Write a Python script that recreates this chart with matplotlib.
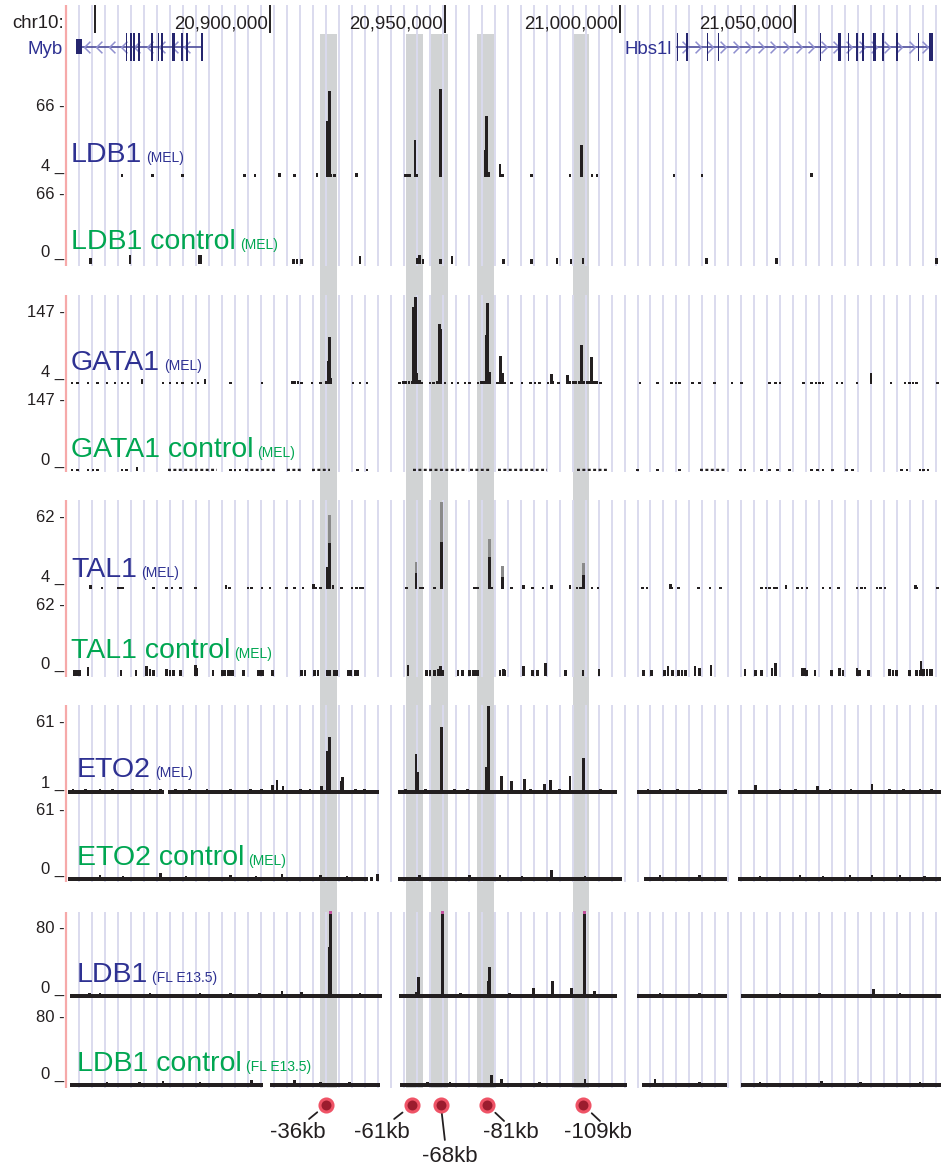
import numpy as np
import matplotlib
matplotlib.use('Agg')
import matplotlib.pyplot as plt
from matplotlib.path import Path

plt.rcParams['font.family'] = ['Liberation Sans', 'DejaVu Sans']

# chr10 window shown by the browser, in kb
view_kb = (20841.7, 21091.7)

ruler_ticks = [20850, 20900, 20950, 21000, 21050]
ruler_labels = ['', '20,900,000', '20,950,000', '21,000,000', '21,050,000']

# grey highlighted enhancers and their names
enhancer_bands = [(20914.3, 20919.1), (20938.9, 20943.7), (20946.0, 20950.9),
                  (20959.1, 20964.0), (20986.6, 20991.1)]
enhancer_pos = [20916.0, 20940.6, 20948.8, 20962.0, 20989.4]
enhancer_names = ['-36kb', '-61kb', '-68kb', '-81kb', '-109kb']

# genes: intron span and exons as (centre, width)
myb_span = (20845.4, 20880.5)
myb_utr = (20844.6, 20846.2)
myb_exons = [(20859.0, 0.5), (20860.3, 0.5), (20861.2, 0.5), (20862.6, 0.5),
             (20866.2, 0.5), (20868.1, 0.5), (20869.2, 0.5), (20872.4, 1.1),
             (20874.8, 0.5), (20876.2, 0.5), (20880.5, 0.5)]
hbs1l_span = (21016.4, 21088.8)
hbs1l_exons = [(21016.4, 0.5), (21019.2, 0.5), (21025.0, 0.5), (21028.1, 0.5),
               (21057.3, 0.5), (21062.7, 0.8), (21065.3, 0.5), (21067.8, 0.5),
               (21069.5, 0.5), (21072.8, 0.9), (21075.2, 0.5), (21079.2, 0.5),
               (21085.3, 0.5), (21088.9, 1.2)]

# signal tracks: (position kb, value)
ldb1_mel = [(20857.7, 6.5), (20866.3, 6.5), (20875.1, 6.5), (20892.8, 6.5), (20895.7, 6.5),
            (20902.8, 7.5), (20907.1, 6.5), (20913.4, 7.5), (20916.5, 52), (20916.9, 78),
            (20917.4, 7), (20918.3, 6.5), (20924.6, 7.5), (20938.6, 6.5), (20939.2, 6.5),
            (20939.8, 6.5), (20941.4, 36), (20941.9, 6.5), (20948.8, 80), (20961.5, 27),
            (20961.9, 56.5), (20962.3, 8), (20965.7, 15), (20966.3, 6.5), (20974.8, 6.5),
            (20985.7, 6.5), (20989.0, 31.5), (20992.0, 6.5), (20993.4, 6.5), (21015.4, 6.5),
            (21023.4, 6.5), (21054.8, 7.5)]
ldb1_mel_ctrl = [(20848.6, 5.6), (20860.0, 8.4), (20879.7, 8.4), (20880.2, 8.4), (20906.6, 4.6),
                 (20907.7, 4.6), (20909.1, 4.6), (20925.7, 7.4), (20942.0, 6.0), (20942.8, 8.4),
                 (20943.7, 5.0), (20948.8, 4.6), (20952.0, 7.4), (20966.6, 4.6), (20974.8, 4.6),
                 (20982.0, 5.6), (20986.0, 4.6), (20989.4, 5.6), (21024.6, 5.6), (21044.8, 5.6),
                 (21090.3, 5.6)]

gata1 = [(20916.6, 50), (20917.0, 97), (20917.4, 16), (20941.1, 157), (20941.6, 177),
         (20942.0, 26), (20942.6, 12), (20948.4, 123), (20948.8, 113), (20961.7, 101),
         (20962.1, 165), (20962.6, 28), (20965.9, 60), (20966.3, 26), (20980.3, 24),
         (20985.1, 22), (20989.0, 81), (20991.9, 58), (21071.7, 26),
         (20843.4, 8), (20845.1, 8), (20848.0, 8), (20850.8, 8), (20853.4, 8), (20855.7, 8),
         (20857.7, 8), (20859.4, 8), (20863.4, 14), (20869.4, 8), (20871.4, 8), (20873.4, 8),
         (20875.1, 8), (20877.7, 8), (20879.4, 8), (20881.4, 14), (20888.6, 8), (20897.7, 8),
         (20906.3, 9), (20907.1, 9), (20908.0, 9), (20909.1, 8), (20912.0, 8), (20914.3, 8),
         (20916.0, 9), (20923.7, 8), (20925.7, 8), (20927.7, 8), (20937.1, 8), (20938.0, 9),
         (20938.8, 9), (20939.7, 9), (20940.6, 9), (20942.8, 8), (20943.4, 8), (20945.7, 8),
         (20946.8, 8), (20947.7, 9), (20950.0, 8), (20952.0, 8), (20953.7, 8), (20955.7, 8),
         (20957.1, 8), (20959.4, 8), (20960.3, 9), (20961.1, 9), (20962.8, 8), (20965.1, 8),
         (20967.1, 8), (20969.1, 8), (20972.0, 8), (20974.3, 8), (20975.7, 8), (20977.1, 8),
         (20979.4, 8), (20980.8, 9), (20982.3, 8), (20985.7, 9), (20986.6, 9), (20987.4, 9),
         (20988.3, 9), (20989.7, 9), (20990.6, 9), (20991.4, 9), (20992.6, 9), (20993.4, 9),
         (20994.3, 8), (21005.7, 8), (21010.8, 8), (21014.8, 8), (21016.0, 8), (21017.1, 8),
         (21020.6, 8), (21022.8, 8), (21027.1, 8), (21032.0, 8), (21034.8, 8), (21042.8, 8),
         (21044.3, 8), (21045.7, 8), (21052.3, 8), (21054.8, 8), (21056.0, 8), (21057.1, 8),
         (21058.0, 8), (21062.0, 8), (21063.4, 8), (21067.7, 8), (21077.4, 8), (21081.4, 8),
         (21082.6, 8), (21083.7, 8), (21084.8, 8), (21090.8, 8)]
gata1_ctrl = [(20843.4, 5), (20845.1, 5), (20848.0, 5), (20849.4, 5), (20850.8, 5), (20857.7, 5),
              (20859.1, 5), (20862.0, 8), (20888.6, 5), (20890.0, 5), (20891.4, 5), (20925.1, 5),
              (20927.7, 5), (21005.1, 5), (21010.8, 5), (21017.1, 5), (21034.3, 5), (21035.7, 5),
              (21040.5, 5), (21042.8, 5), (21045.1, 5), (21048.5, 5), (21054.8, 5), (21056.5, 5),
              (21058.0, 5), (21060.8, 5), (21064.8, 5), (21066.5, 5), (21080.5, 5), (21082.0, 5),
              (21085.7, 5), (21086.8, 5), (21088.0, 5)]
gata1_ctrl_runs = [(20870.8, 20884.8, 5), (20892.8, 20901.4, 5), (20904.8, 20909.1, 5),
                   (20912.0, 20917.1, 5), (20940.8, 20956.3, 5), (20957.1, 20962.8, 5),
                   (20965.1, 20979.1, 5), (20987.7, 20996.3, 5), (21022.8, 21030.0, 5)]

tal1 = [(20916.5, 22), (20916.9, 41), (20941.7, 17), (20949.0, 42), (20962.6, 30),
        (20966.3, 14), (20989.5, 15),
        (20848.6, 7.2), (20852.0, 5.6), (20856.6, 5.6), (20857.4, 5.6), (20858.0, 5.6),
        (20866.6, 5.6), (20870.5, 5.6), (20872.0, 5.6), (20874.3, 5.6), (20878.8, 5.6),
        (20887.4, 7.2), (20888.3, 5.6), (20893.7, 5.6), (20894.8, 5.6), (20897.7, 5.6),
        (20900.0, 5.6), (20904.8, 5.6), (20907.1, 5.6), (20909.4, 5.6), (20912.3, 8),
        (20913.1, 5.6), (20914.3, 5.6), (20917.1, 5.6), (20918.0, 7.2), (20920.5, 5.6),
        (20923.4, 5.6), (20924.8, 5.6), (20925.7, 5.6), (20926.3, 5.6), (20939.1, 5.6),
        (20943.1, 5.6), (20943.7, 5.6), (20947.1, 5.6), (20958.3, 5.6), (20958.8, 5.6),
        (20959.4, 5.6), (20963.4, 5.6), (20969.1, 5.6), (20972.3, 7.2), (20975.1, 5.6),
        (20978.0, 5.6), (20980.5, 7.2), (20985.7, 7.2), (20987.7, 5.6), (20988.6, 5.6),
        (20992.0, 5.6), (20993.7, 5.6), (21006.3, 5.6), (21007.7, 5.6), (21014.3, 8),
        (21014.8, 5.6), (21016.6, 5.6), (21022.3, 5.6), (21025.7, 5.6), (21028.6, 5.6),
        (21040.5, 5.6), (21041.7, 5.6), (21042.8, 5.6), (21044.0, 5.6), (21044.8, 5.6),
        (21047.4, 7.2), (21050.8, 5.6), (21052.0, 5.6), (21053.4, 5.6), (21058.0, 5.6),
        (21060.0, 5.6), (21062.3, 5.6), (21067.7, 5.6), (21069.1, 5.6), (21070.0, 5.6),
        (21073.4, 5.6), (21074.5, 5.6), (21075.7, 5.6), (21084.3, 7.2), (21084.8, 5.6),
        (21090.8, 5.6)]
# TAL1 peaks are drawn two-tone: the grey upper part reaches these values
tal1_upper = [(20916.9, 63.6), (20941.7, 26), (20949.0, 74), (20962.6, 44),
              (20966.3, 22.5), (20989.5, 25)]
tal1_ctrl = [(20844.0, 5.2), (20844.6, 5.2), (20845.1, 5.2), (20845.7, 5.2), (20848.0, 7.9),
             (20857.4, 5.2), (20861.7, 5.2), (20864.8, 8.7), (20865.7, 6.1), (20866.6, 5.2),
             (20870.5, 6.1), (20871.4, 5.2), (20872.3, 5.2), (20874.3, 5.2), (20878.6, 9.6),
             (20879.1, 7.0), (20883.7, 5.2), (20886.3, 5.2), (20887.1, 5.2), (20888.0, 5.2),
             (20888.8, 5.2), (20889.4, 5.2), (20892.3, 5.2), (20896.8, 5.2), (20897.4, 5.2),
             (20898.0, 5.2), (20900.8, 5.2), (20909.1, 5.2), (20910.0, 5.2), (20912.6, 5.2),
             (20913.7, 5.2), (20916.3, 5.2), (20917.1, 5.2), (20918.3, 5.2), (20919.1, 5.2),
             (20922.3, 5.2), (20923.1, 5.2), (20924.3, 5.2), (20925.1, 5.2), (20939.4, 9.6),
             (20944.8, 5.2), (20945.7, 5.2), (20947.1, 5.2), (20948.0, 6.1), (20948.8, 8.7),
             (20949.4, 5.2), (20953.7, 5.2), (20955.1, 5.2), (20957.1, 5.2), (20958.0, 5.2),
             (20958.8, 5.2), (20959.4, 5.2), (20965.7, 5.2), (20966.6, 6.1), (20967.1, 5.2),
             (20972.3, 8.7), (20975.1, 5.2), (20976.3, 5.2), (20978.8, 11.3), (20984.3, 5.2),
             (20989.4, 5.2), (20994.0, 6.1), (21006.6, 5.2), (21009.1, 5.2), (21012.8, 5.2),
             (21013.7, 8.7), (21015.1, 5.2), (21016.8, 5.2), (21017.7, 5.2), (21018.6, 5.2),
             (21021.4, 8.7), (21022.6, 7.0), (21026.0, 9.6), (21035.7, 6.1), (21038.8, 5.2),
             (21040.5, 5.2), (21043.4, 7.0), (21044.3, 11.3), (21052.0, 7.0), (21052.8, 7.0),
             (21053.4, 5.2), (21055.7, 5.2), (21060.3, 5.2), (21062.8, 7.0), (21063.7, 5.2),
             (21067.7, 7.0), (21068.3, 5.2), (21071.1, 5.2), (21077.1, 6.1), (21078.0, 5.2),
             (21079.1, 5.2), (21082.8, 5.2), (21084.8, 5.2), (21085.7, 5.2), (21086.0, 13.1),
             (21086.8, 6.1), (21087.7, 6.1), (21088.6, 6.1), (21089.1, 6.1)]

eto2 = [(20843.7, 5), (20847.2, 5.5), (20851.4, 5.5), (20855.0, 5), (20860.8, 5), (20865.7, 5.5),
        (20868.6, 5), (20873.1, 5.5), (20877.1, 5.5), (20882.0, 5), (20888.6, 5), (20894.3, 5.5),
        (20897.5, 5), (20900.8, 8.5), (20902.0, 12.8), (20903.7, 7.7), (20908.6, 5),
        (20911.4, 5.5), (20914.8, 7.7), (20916.5, 37), (20916.9, 48.7), (20920.3, 12),
        (20920.8, 15), (20924.3, 5.5), (20927.1, 5), (20938.8, 5.5), (20941.7, 34.5),
        (20942.1, 19.5), (20944.3, 5.5), (20949.0, 57), (20952.8, 5), (20956.5, 5.5),
        (20961.9, 23.7), (20962.3, 74.5), (20966.2, 16), (20969.0, 12), (20972.6, 13.7),
        (20974.3, 5.5), (20978.3, 9.5), (20980.2, 12.8), (20982.8, 5.5), (20985.7, 16),
        (20989.5, 31), (20994.3, 5), (21008.0, 5), (21011.4, 5.5), (21016.3, 5), (21022.8, 5),
        (21038.6, 8.7), (21045.7, 5.5), (21050.2, 5), (21056.3, 8), (21060.0, 5),
        (21066.0, 5.5), (21072.0, 9), (21077.1, 5.5), (21081.0, 5), (21085.7, 5), (21089.0, 5.5)]
eto2_runs = [(20842.3, 20869.7, 4.2), (20870.8, 20931.1, 4.2), (20936.6, 20999.1, 4.2),
             (21004.8, 21030.6, 4.2), (21033.7, 21091.7, 4.2)]
eto2_ctrl = [(20851.4, 4.8), (20858.0, 4.6), (20868.6, 6.8), (20876.0, 4.6), (20888.6, 4.8),
             (20896.0, 4.6), (20903.4, 6), (20914.3, 5), (20922.0, 4.6), (20929.1, 3.5),
             (20930.8, 6), (20942.8, 4.8), (20957.1, 4.8), (20965.7, 5), (20972.0, 4.6),
             (20980.3, 9.3), (20990.0, 4.6), (21011.4, 4.8), (21022.8, 5), (21040.0, 4.6),
             (21051.4, 4.8), (21058.0, 4.6), (21065.7, 5), (21072.0, 5.5), (21080.0, 4.8),
             (21087.0, 4.6)]
eto2_ctrl_runs = [(20842.3, 20928.0, 3.3), (20936.6, 21000.6, 3.3), (21006.8, 21030.6, 3.3),
                  (21033.7, 21091.7, 3.3)]

ldb1_fl = [(20848.3, 5.7), (20851.4, 5.2), (20858.0, 5), (20865.7, 5.2), (20872.0, 5),
           (20880.0, 5.2), (20888.6, 5.2), (20897.1, 5.2), (20903.4, 8), (20909.1, 6.9),
           (20916.9, 58), (20917.3, 120), (20925.7, 5.2), (20941.9, 7), (20942.4, 24),
           (20949.2, 120), (20954.3, 5.2), (20962.3, 19.5), (20962.6, 35.5), (20968.5, 5.2),
           (20975.2, 11.4), (20980.8, 19.5), (20986.2, 11.4), (20989.8, 120), (20992.8, 8),
           (21011.4, 5.2), (21022.8, 5.2), (21040.0, 5), (21045.7, 5.2), (21057.1, 5.2),
           (21064.0, 5), (21072.4, 10), (21080.0, 5.2), (21087.0, 5)]
ldb1_fl_runs = [(20842.8, 20932.0, 4.2), (20936.8, 20999.1, 4.2), (21004.8, 21030.6, 4.2),
                (21034.6, 21091.7, 4.2)]
ldb1_fl_ctrl = [(20853.4, 5.7), (20862.8, 5.2), (20869.4, 6.9), (20880.0, 5.2), (20894.8, 8),
                (20907.1, 8), (20914.3, 5.2), (20922.8, 5.2), (20945.0, 5.2), (20951.4, 5.2),
                (20963.3, 13.7), (20966.2, 9), (20977.1, 5.2), (20990.0, 9), (21010.0, 9),
                (21022.8, 5.2), (21040.0, 5.2), (21050.0, 5), (21057.6, 6.9), (21068.6, 5.2),
                (21077.0, 5), (21085.7, 5.2)]
ldb1_fl_ctrl_runs = [(20842.8, 20898.0, 4.2), (20900.0, 20931.4, 4.2), (20937.1, 21002.0, 4.2),
                     (21006.3, 21030.6, 4.2), (21034.6, 21091.7, 4.2)]

# ---- styling / layout (pixel positions of the original screenshot) ----
W, H = 941, 1171
X0 = 66
INK = '#231f20'
NAVY = '#2e3192'
GREEN = '#00a651'
GUIDE = '#dadaee'
BAND = '#d1d3d4'
PINK = '#f6a9a9'
MAGENTA = '#c2509c'
BAR_W = 0.8
group_spans = [(5, 266), (295, 472), (500, 677), (705, 882), (912, 1088)]

tracks = [
    dict(name='LDB1', tag='(MEL)', color=NAVY, data=ldb1_mel, lo=4, hi=66,
         base=177, top=105, txt=(111, 171), name_xy=(71, 162)),
    dict(name='LDB1 control', tag='(MEL)', color=GREEN, data=ldb1_mel_ctrl, lo=0, hi=66,
         base=264, top=193, txt=(199, 257), name_xy=(71, 249)),
    dict(name='GATA1', tag='(MEL)', color=NAVY, data=gata1, lo=4, hi=147,
         base=384, top=312, txt=(317, 377), name_xy=(71, 370)),
    dict(name='GATA1 control', tag='(MEL)', color=GREEN, data=gata1_ctrl, lo=0, hi=147,
         base=471, top=399, txt=(405, 465), name_xy=(71, 457), dotted=gata1_ctrl_runs),
    dict(name='TAL1', tag='(MEL)', color=NAVY, data=tal1, lo=4, hi=62,
         base=589, top=517, txt=(522, 582), name_xy=(71, 577), upper=tal1_upper),
    dict(name='TAL1 control', tag='(MEL)', color=GREEN, data=tal1_ctrl, lo=0, hi=62,
         base=676, top=605, txt=(610, 669), name_xy=(71, 658)),
    dict(name='ETO2', tag='(MEL)', color=NAVY, data=eto2, lo=1, hi=61,
         base=794, top=722, txt=(727, 788), name_xy=(77, 777), runs=eto2_runs),
    dict(name='ETO2 control', tag='(MEL)', color=GREEN, data=eto2_ctrl, lo=0, hi=61,
         base=881, top=809, txt=(815, 874), name_xy=(77, 865), runs=eto2_ctrl_runs),
    dict(name='LDB1', tag='(FL E13.5)', color=NAVY, data=ldb1_fl, lo=0, hi=80,
         base=998, top=928, txt=(933, 993), name_xy=(77, 982), runs=ldb1_fl_runs, clip=99),
    dict(name='LDB1 control', tag='(FL E13.5)', color=GREEN, data=ldb1_fl_ctrl, lo=0, hi=80,
         base=1087, top=1017, txt=(1022, 1079), name_xy=(77, 1071), runs=ldb1_fl_ctrl_runs),
]


def fx(px):
    return px / W


def fy(px):
    return 1 - px / H


fig = plt.figure(figsize=(W / 100, H / 100), dpi=100)

# background layer: x in kb, y in screen pixels (top = 0)
bg = fig.add_axes([fx(X0), 0, fx(W - X0), 1])
bg.set_xlim(view_kb)
bg.set_ylim(H, 0)
bg.axis('off')

for a, b in enhancer_bands:
    bg.fill_between([a, b], 34, 1088, color=BAND, lw=0, zorder=1)

guides = np.arange(20845.5, view_kb[1], 3.709)
for top, bottom in group_spans:
    bg.vlines(guides, top, bottom, color=GUIDE, lw=1.4, zorder=2)
    bg.vlines(view_kb[0], top, bottom, color=PINK, lw=1.6, zorder=3, clip_on=False)

# ruler
bg.vlines(ruler_ticks, 5, 33, color=INK, lw=1.4, zorder=4)
for tick, lab in zip(ruler_ticks, ruler_labels):
    if lab:
        bg.annotate(lab, xy=(tick, 28.3), xytext=(-2, 0), textcoords='offset pixels',
                    ha='right', va='baseline', fontsize=13.4, color=INK)
fig.text(fx(12), fy(28.3), 'chr10:', ha='left', va='baseline', fontsize=13.4, color=INK)

# genes
chev_left = Path([(0.5, 1), (-0.5, 0), (0.5, -1)])
chev_right = Path([(-0.5, 1), (0.5, 0), (-0.5, -1)])


def draw_gene(span, exons, marker, label):
    bg.plot(span, [47, 47], color='#4b4b9b', lw=1.2, zorder=5)
    cx = np.arange(span[0] + 2.2, span[1] - 1.0, 3.6)
    bg.plot(cx, np.full(len(cx), 47), ls='none', marker=marker, ms=8.4,
            mfc='none', mec='#8f8fcf', mew=1.1, zorder=5)
    ex = np.array(exons)
    bg.bar(ex[:, 0], 28, width=ex[:, 1], bottom=33, color='#25256e', lw=0, zorder=6)
    if label:
        bg.annotate(label, xy=(span[0], 54.5), xytext=(-6, 0), textcoords='offset pixels',
                    ha='right', va='baseline', fontsize=13.4, color=NAVY,
                    annotation_clip=False)


draw_gene(myb_span, myb_exons, chev_left, '')
bg.bar(myb_utr[0], 15, width=myb_utr[1] - myb_utr[0], bottom=39, align='edge',
       color='#25256e', lw=0, zorder=6)
fig.text(fx(63), fy(54.5), 'Myb', ha='right', va='baseline', fontsize=13.4, color=NAVY)
draw_gene(hbs1l_span, hbs1l_exons, chev_right, 'Hbs1l')


def draw_track(t):
    base, top, lo, hi = t['base'], t['top'], t['lo'], t['hi']
    ax = fig.add_axes([fx(X0), fy(base), fx(W - X0), (base - top) / H])
    ax.set_xlim(view_kb)
    ax.set_ylim(lo, hi)
    ax.axis('off')
    ax.patch.set_alpha(0)
    unit_px = (base - top) / (hi - lo)
    for a, b, lev in t.get('runs', []):
        ax.bar(a, lev - lo, width=b - a, bottom=lo, align='edge', color=INK, lw=0)
    for a, b, lev in t.get('dotted', []):
        h_px = (lev - lo) * unit_px
        ax.plot([a, b], [lo + (lev - lo) / 2] * 2, color=INK, lw=h_px * 0.72,
                dashes=(1.2, 1.0), solid_capstyle='butt')
    if 'upper' in t:
        ux, uv = np.array(t['upper']).T
        ax.bar(ux, uv - lo, width=BAR_W, bottom=lo, color='#8a8a8a', lw=0, clip_on=False)
    x, v = np.array(t['data']).T
    clip = t.get('clip')
    shown = np.minimum(v, clip) if clip else v
    ax.bar(x, shown - lo, width=BAR_W, bottom=lo, color=INK, lw=0, clip_on=False)
    if clip:
        over = v > clip
        cap = 3 / unit_px
        ax.bar(x[over], cap, width=BAR_W, bottom=clip - cap, color=MAGENTA, lw=0,
               clip_on=False)

    fig.text(fx(64.5), fy(t['txt'][0]), f"{hi} -", ha='right', va='baseline',
             fontsize=12, color=INK)
    fig.text(fx(64.5), fy(t['txt'][1]), f"{lo} _", ha='right', va='baseline',
             fontsize=12, color=INK)
    nx, ny = t['name_xy']
    txt = fig.text(fx(nx), fy(ny), t['name'], ha='left', va='baseline',
                   fontsize=20.5, color=t['color'])
    bg.annotate(t['tag'], xy=(1, H - ny), xycoords=(txt, 'figure pixels'),
                xytext=(4, 0), textcoords='offset pixels', ha='left', va='baseline',
                fontsize=10, color=t['color'], annotation_clip=False)


for t in tracks:
    draw_track(t)

# enhancer markers and labels
label_off = [(-28, -28), (-30, -28), (9, -51), (24, -28), (15, -28)]
leader_off = [((-9, -7), (-17, -14)), ((-10, -7), (-18, -14)), ((0, -8), (4, -35)),
              ((8, -8), (17, -16)), ((9, -8), (17, -16))]
bg.scatter(enhancer_pos, np.full(len(enhancer_pos), 1105), s=88, c='#9b1c2e',
           edgecolors='#ef5366', linewidths=2.2, zorder=8, clip_on=False)
for pos, name, off, (start, end) in zip(enhancer_pos, enhancer_names, label_off, leader_off):
    bg.annotate('', xy=(pos, 1105), xytext=end, textcoords='offset pixels',
                arrowprops=dict(arrowstyle='-', color=INK, lw=1.3, shrinkA=0,
                                shrinkB=np.hypot(*start) * 0.72),
                annotation_clip=False)
    bg.annotate(name, xy=(pos, 1105), xytext=off, textcoords='offset pixels',
                ha='center', va='center', fontsize=16, color=INK, annotation_clip=False)

fig.savefig('out.png', dpi=100)
